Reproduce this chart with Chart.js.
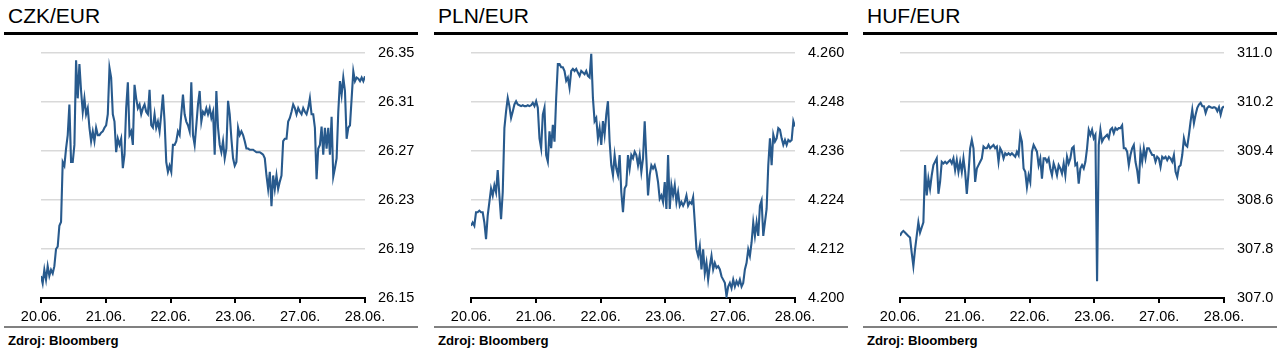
<!DOCTYPE html>
<html><head><meta charset="utf-8">
<script src="https://cdn.jsdelivr.net/npm/chart.js@4"></script>
<style>
body{margin:0;background:#fff;width:1285px;height:359px;overflow:hidden;font-family:"Liberation Sans",Arial,sans-serif;}
.panel{position:absolute;top:0;width:428px;height:359px;}
.title{position:absolute;left:8px;top:5px;font-size:21px;line-height:21px;color:#000;white-space:nowrap;}
.topline{position:absolute;left:4px;width:414px;top:32px;height:3px;background:#000;}
.botline{position:absolute;left:4px;width:414px;top:326px;height:2px;background:#808080;}
.src{position:absolute;left:8px;top:333px;font-size:13.2px;font-weight:bold;line-height:15px;color:#000;white-space:nowrap;}
canvas{position:absolute;left:0;top:40px;}
</style>
</head><body>
<script>
const dateLabels = ['20.06.','21.06.','22.06.','23.06.','27.06.','28.06.'];
const titles = ['CZK/EUR','PLN/EUR','HUF/EUR'];
const sourceText = 'Zdroj: Bloomberg';

const czkTicks = [26.15,26.19,26.23,26.27,26.31,26.35];
const plnTicks = [4.200,4.212,4.224,4.236,4.248,4.260];
const hufTicks = [307.0,307.8,308.6,309.4,310.2,311.0];

const czkValues = [26.168,26.162,26.173,26.165,26.176,26.168,26.173,26.170,26.176,26.190,
26.192,26.209,26.212,26.261,26.258,26.272,26.283,26.308,26.261,26.261,
26.275,26.344,26.313,26.341,26.319,26.302,26.313,26.300,26.305,26.289,
26.278,26.286,26.278,26.289,26.283,26.283,26.285,26.286,26.289,26.291,
26.300,26.338,26.330,26.300,26.294,26.269,26.280,26.275,26.280,26.256,
26.267,26.305,26.326,26.283,26.286,26.275,26.324,26.313,26.305,26.308,
26.300,26.305,26.308,26.302,26.300,26.320,26.291,26.289,26.300,26.289,
26.294,26.286,26.300,26.316,26.294,26.261,26.253,26.258,26.253,26.275,
26.275,26.278,26.286,26.283,26.300,26.316,26.300,26.294,26.291,26.286,
26.326,26.283,26.275,26.291,26.308,26.319,26.294,26.302,26.300,26.305,
26.300,26.305,26.297,26.302,26.267,26.319,26.289,26.275,26.269,26.278,
26.264,26.272,26.311,26.300,26.280,26.264,26.258,26.261,26.289,26.283,
26.286,26.283,26.278,26.272,26.272,26.271,26.271,26.271,26.270,26.269,
26.269,26.269,26.268,26.267,26.264,26.250,26.239,26.253,26.225,26.250,
26.239,26.250,26.239,26.245,26.250,26.278,26.280,26.280,26.294,26.297,
26.302,26.308,26.305,26.300,26.305,26.302,26.300,26.305,26.302,26.300,
26.305,26.313,26.300,26.300,26.289,26.247,26.272,26.275,26.290,26.267,
26.289,26.272,26.289,26.267,26.298,26.249,26.256,26.264,26.302,26.327,
26.316,26.330,26.319,26.280,26.289,26.291,26.313,26.335,26.327,26.330,
26.329,26.327,26.330,26.327,26.331];

const plnValues = [4.2177,4.2185,4.2177,4.2210,4.2210,4.2214,4.2210,4.2210,4.2185,4.2144,
4.2202,4.2235,4.2268,4.2251,4.2276,4.2259,4.2313,4.2251,4.2193,4.2259,
4.2416,4.2457,4.2490,4.2470,4.2441,4.2457,4.2474,4.2482,4.2474,4.2472,
4.2470,4.2472,4.2470,4.2470,4.2472,4.2470,4.2472,4.2478,4.2470,4.2482,
4.2466,4.2391,4.2367,4.2449,4.2466,4.2350,4.2334,4.2408,4.2367,4.2424,
4.2383,4.2490,4.2573,4.2573,4.2565,4.2565,4.2556,4.2532,4.2540,4.2515,
4.2556,4.2561,4.2556,4.2561,4.2552,4.2544,4.2556,4.2552,4.2548,4.2556,
4.2544,4.2540,4.2598,4.2490,4.2433,4.2441,4.2391,4.2416,4.2375,4.2433,
4.2400,4.2449,4.2482,4.2383,4.2325,4.2301,4.2350,4.2317,4.2301,4.2350,
4.2259,4.2210,4.2268,4.2276,4.2350,4.2317,4.2350,4.2342,4.2358,4.2350,
4.2325,4.2350,4.2309,4.2342,4.2433,4.2342,4.2251,4.2301,4.2325,4.2317,
4.2325,4.2309,4.2284,4.2243,4.2251,4.2235,4.2284,4.2218,4.2350,4.2218,
4.2276,4.2251,4.2276,4.2235,4.2259,4.2226,4.2235,4.2226,4.2235,4.2251,
4.2226,4.2235,4.2231,4.2247,4.2185,4.2119,4.2103,4.2127,4.2070,4.2119,
4.2061,4.2086,4.2045,4.2078,4.2103,4.2070,4.2086,4.2074,4.2078,4.2070,
4.2053,4.2045,4.2037,4.2004,4.2028,4.2037,4.2024,4.2045,4.2028,4.2041,
4.2032,4.2045,4.2028,4.2037,4.2070,4.2086,4.2119,4.2103,4.2136,4.2185,
4.2152,4.2185,4.2152,4.2226,4.2239,4.2152,4.2185,4.2218,4.2325,4.2391,
4.2325,4.2400,4.2383,4.2391,4.2416,4.2412,4.2391,4.2375,4.2387,4.2375,
4.2387,4.2383,4.2387,4.2433,4.2420];

const hufValues = [308.014,308.069,308.096,308.069,308.041,308.014,307.987,307.739,307.520,307.794,
308.014,308.234,308.069,308.151,308.234,309.169,308.674,308.949,308.784,309.004,
309.169,309.224,309.279,308.701,308.894,309.224,309.197,309.224,309.197,309.224,
309.251,309.197,309.279,309.087,309.251,309.059,309.224,309.059,309.279,309.059,
308.701,309.031,309.444,309.582,309.444,308.894,309.114,309.169,309.224,309.279,
309.472,309.444,309.444,309.499,309.444,309.472,309.499,309.444,309.472,309.224,
309.444,309.389,309.279,309.362,309.334,309.362,309.334,309.362,309.334,309.306,
309.389,309.334,309.664,309.554,309.114,309.059,308.812,309.004,308.894,309.389,
309.499,309.444,309.389,309.169,309.279,308.949,309.279,309.279,309.224,309.279,
309.114,309.004,309.197,309.114,309.004,309.169,309.114,309.031,309.197,309.004,
309.306,309.197,309.279,309.444,309.472,309.169,309.197,308.867,309.114,309.169,
309.114,309.224,309.444,309.746,309.664,309.746,309.609,309.664,307.272,309.499,
309.746,309.554,309.609,309.636,309.664,309.609,309.746,309.774,309.691,309.774,
309.746,309.774,309.774,309.818,309.444,309.444,309.389,309.169,309.334,309.444,
309.499,309.224,309.087,308.867,309.389,309.224,309.444,309.279,309.444,309.444,
309.389,309.334,309.334,309.224,309.306,309.279,309.141,309.306,309.279,309.306,
309.251,309.306,309.279,309.224,309.334,309.059,308.977,309.141,309.169,309.334,
309.609,309.499,309.472,309.664,309.884,310.076,309.856,309.994,310.104,310.159,
310.186,310.131,310.131,310.021,310.104,310.131,310.115,310.104,310.115,310.104,
310.049,310.115,309.994,310.104,310.131];

const panels = [
  {left:0,   title:titles[0], values:czkValues, ticks:czkTicks, dec:2},
  {left:430, title:titles[1], values:plnValues, ticks:plnTicks, dec:3},
  {left:859, title:titles[2], values:hufValues, ticks:hufTicks, dec:1}
];

const FONT = 'Liberation Sans';

panels.forEach(p => {
  const div = document.createElement('div');
  div.className = 'panel';
  div.style.left = p.left + 'px';
  div.innerHTML = '<div class="title"></div><div class="topline"></div><div class="botline"></div><div class="src"></div>';
  div.querySelector('.title').textContent = p.title;
  div.querySelector('.src').textContent = sourceText;
  const cv = document.createElement('canvas');
  cv.width = 428; cv.height = 286;
  cv.style.width = '428px'; cv.style.height = '286px';
  div.appendChild(cv);
  document.body.appendChild(div);

  const n = p.values.length;
  const data = p.values.map((v, i) => ({x: i * (dateLabels.length - 1) / (n - 1), y: v}));

  new Chart(cv, {
    type: 'line',
    data: {datasets: [{data, borderColor: '#285a8d', borderWidth: 2.1, pointRadius: 0, tension: 0, fill: false}]},
    options: {
      responsive: false, animation: false,
      layout: {padding: {left: 41, top: 13, right: 0, bottom: 0}},
      plugins: {legend: {display: false}, tooltip: {enabled: false}},
      scales: {
        x: {
          type: 'linear', min: 0, max: dateLabels.length - 1,
          afterBuildTicks: s => { s.ticks = dateLabels.map((_, i) => ({value: i})); },
          afterFit: s => { s.height = 28; },
          grid: {drawOnChartArea: false, drawTicks: true, tickLength: 5, color: '#000', lineWidth: 2},
          border: {display: true, color: '#000', width: 2},
          ticks: {padding: 5, maxRotation: 0, autoSkip: false, color: '#000',
                  font: {family: FONT, size: 14.5},
                  callback: (v, i) => dateLabels[i]}
        },
        y: {
          position: 'right',
          min: p.ticks[0], max: p.ticks[p.ticks.length - 1],
          afterBuildTicks: s => { s.ticks = p.ticks.map(v => ({value: v})); },
          afterFit: s => { s.width = 63; },
          grid: {color: c => c.index === 0 ? 'rgba(0,0,0,0)' : '#d9d9d9', lineWidth: 1.6,
                 drawTicks: true, tickLength: 13, tickColor: 'rgba(0,0,0,0)'},
          border: {display: false},
          ticks: {padding: 0, color: '#000', font: {family: FONT, size: 14.5},
                  callback: v => Number(v).toFixed(p.dec)}
        }
      }
    }
  });
});
</script>
</body></html>
